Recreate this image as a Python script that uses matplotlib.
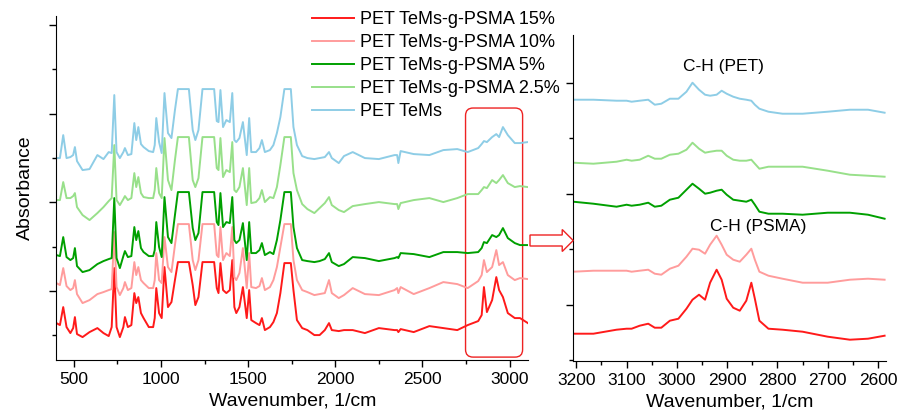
import matplotlib
matplotlib.use('Agg')
import matplotlib.pyplot as plt
import numpy as np
from matplotlib.patches import FancyBboxPatch, FancyArrow

plt.rcParams['font.family'] = ['Liberation Sans', 'DejaVu Sans']

# full FTIR spectra (left panel), stacked, arbitrary absorbance units
wavenumber = [400, 420, 439, 458, 480, 496, 506, 518, 550, 590,
              635, 670, 700, 717, 732, 745, 764, 784, 793, 810,
              830, 847, 858, 870, 885, 900, 930, 955, 964, 973,
              989, 1004, 1020, 1040, 1060, 1080, 1097, 1160, 1182, 1197,
              1215, 1238, 1305, 1320, 1330, 1341, 1356, 1375, 1395, 1409,
              1421, 1432, 1450, 1470, 1492, 1506, 1518, 1545, 1565, 1579,
              1596, 1625, 1645, 1665, 1685, 1708, 1745, 1760, 1780, 1810,
              1840, 1880, 1910, 1940, 1964, 1980, 2020, 2050, 2100, 2170,
              2250, 2340, 2355, 2362, 2375, 2450, 2540, 2620, 2700, 2760,
              2820, 2840, 2853, 2870, 2900, 2924, 2940, 2962, 2990, 3030,
              3060, 3105]

psma_15 = [0.37, 0.35, 0.53, 0.33, 0.27, 0.32, 0.43, 0.26, 0.23, 0.28,
           0.32, 0.27, 0.24, 0.33, 0.92, 0.33, 0.23, 0.33, 0.43, 0.33,
           0.35, 0.67, 0.57, 0.63, 0.47, 0.42, 0.33, 0.33, 0.42, 0.72,
           0.47, 0.42, 0.93, 0.53, 0.58, 0.80, 0.98, 0.98, 0.75, 0.55,
           0.63, 0.98, 0.98, 0.72, 0.67, 0.97, 0.70, 0.67, 0.70, 1.00,
           0.53, 0.47, 0.53, 0.73, 0.42, 0.70, 0.40, 0.37, 0.35, 0.42,
           0.30, 0.33, 0.38, 0.47, 0.67, 0.97, 0.97, 0.70, 0.40, 0.32,
           0.30, 0.25, 0.25, 0.30, 0.37, 0.30, 0.29, 0.30, 0.30, 0.27,
           0.32, 0.30, 0.30, 0.28, 0.31, 0.28, 0.34, 0.32, 0.30, 0.35,
           0.39, 0.45, 0.73, 0.48, 0.60, 0.83, 0.70, 0.63, 0.47, 0.42,
           0.42, 0.37]

psma_10 = [0.77, 0.75, 0.92, 0.74, 0.70, 0.72, 0.80, 0.66, 0.57, 0.60,
           0.66, 0.68, 0.70, 0.71, 1.28, 0.73, 0.65, 0.72, 0.78, 0.70,
           0.72, 0.98, 0.85, 0.93, 0.80, 0.77, 0.72, 0.72, 0.80, 1.07,
           0.80, 0.77, 1.23, 0.93, 0.88, 1.15, 1.36, 1.36, 1.00, 0.90,
           1.00, 1.36, 1.36, 1.05, 1.03, 1.33, 1.00, 1.07, 1.04, 1.33,
           0.83, 0.80, 0.87, 1.12, 0.72, 1.07, 0.73, 0.72, 0.74, 0.82,
           0.70, 0.73, 0.80, 0.93, 1.13, 1.36, 1.36, 1.00, 0.80, 0.70,
           0.68, 0.65, 0.66, 0.67, 0.80, 0.67, 0.62, 0.65, 0.72, 0.66,
           0.65, 0.70, 0.72, 0.67, 0.73, 0.66, 0.72, 0.78, 0.76, 0.72,
           0.79, 0.85, 1.00, 0.88, 0.93, 1.10, 0.95, 0.98, 0.85, 0.80,
           0.82, 0.81]

psma_5 = [1.05, 1.04, 1.23, 1.03, 1.00, 1.02, 1.12, 0.94, 0.88, 0.90,
          0.96, 0.99, 1.01, 1.02, 1.62, 1.02, 0.92, 1.04, 1.09, 1.03,
          1.04, 1.33, 1.20, 1.29, 1.12, 1.08, 1.04, 1.04, 1.10, 1.38,
          1.13, 1.03, 1.63, 1.23, 1.17, 1.45, 1.68, 1.68, 1.32, 1.20,
          1.27, 1.68, 1.68, 1.38, 1.35, 1.67, 1.33, 1.38, 1.37, 1.63,
          1.20, 1.17, 1.20, 1.37, 1.00, 1.38, 1.07, 1.07, 1.10, 1.17,
          1.05, 1.08, 1.06, 1.20, 1.40, 1.68, 1.68, 1.33, 1.12, 1.00,
          0.99, 0.98, 0.99, 1.01, 1.07, 0.98, 0.94, 0.96, 1.03, 1.02,
          0.99, 1.02, 1.03, 1.02, 1.07, 1.06, 1.03, 1.08, 1.08, 1.07,
          1.08, 1.12, 1.18, 1.17, 1.25, 1.23, 1.25, 1.32, 1.22, 1.17,
          1.15, 1.15]

psma_2_5 = [1.60, 1.60, 1.78, 1.62, 1.62, 1.64, 1.67, 1.53, 1.45, 1.40,
            1.47, 1.53, 1.59, 1.62, 2.15, 1.60, 1.55, 1.61, 1.64, 1.60,
            1.62, 1.87, 1.73, 1.83, 1.67, 1.63, 1.62, 1.62, 1.70, 1.92,
            1.67, 1.62, 2.22, 1.80, 1.70, 2.00, 2.23, 2.23, 1.80, 1.73,
            1.82, 2.23, 2.23, 1.92, 1.90, 2.22, 1.83, 1.90, 1.88, 2.18,
            1.70, 1.68, 1.73, 1.92, 1.55, 1.92, 1.57, 1.58, 1.62, 1.70,
            1.58, 1.63, 1.62, 1.73, 1.95, 2.23, 2.23, 1.87, 1.70, 1.56,
            1.51, 1.47, 1.52, 1.57, 1.63, 1.55, 1.50, 1.48, 1.54, 1.56,
            1.58, 1.56, 1.56, 1.51, 1.57, 1.60, 1.62, 1.58, 1.62, 1.66,
            1.66, 1.70, 1.73, 1.72, 1.80, 1.77, 1.80, 1.85, 1.77, 1.73,
            1.74, 1.73]

pet_tems = [2.02, 2.02, 2.25, 2.02, 2.03, 2.05, 2.13, 1.99, 1.90, 1.91,
            2.05, 2.01, 2.08, 2.07, 2.65, 2.08, 2.02, 2.08, 2.12, 2.05,
            2.06, 2.37, 2.20, 2.33, 2.16, 2.13, 2.09, 2.08, 2.15, 2.42,
            2.18, 2.07, 2.67, 2.27, 2.22, 2.50, 2.71, 2.71, 2.30, 2.20,
            2.30, 2.71, 2.71, 2.39, 2.38, 2.70, 2.33, 2.40, 2.38, 2.67,
            2.20, 2.18, 2.22, 2.38, 2.05, 2.42, 2.08, 2.08, 2.12, 2.20,
            2.08, 2.10, 2.15, 2.27, 2.43, 2.71, 2.71, 2.33, 2.15, 2.04,
            2.02, 2.01, 2.02, 2.03, 2.08, 2.02, 1.97, 2.04, 2.08, 2.02,
            2.01, 2.05, 2.05, 1.97, 2.09, 2.06, 2.05, 2.10, 2.11, 2.08,
            2.12, 2.16, 2.19, 2.18, 2.23, 2.26, 2.23, 2.33, 2.25, 2.17,
            2.17, 2.18]

# C-H stretching region (right panel)
wavenumber_ch = [3206, 3166, 3120, 3100, 3090, 3074, 3057, 3044, 3031, 3014,
                 2997, 2981, 2969, 2956, 2944, 2934, 2921, 2911, 2901, 2888,
                 2875, 2862, 2852, 2845, 2836, 2818, 2790, 2750, 2700, 2656,
                 2620, 2587]

ch_15 = [0.27, 0.27, 0.31, 0.32, 0.32, 0.35, 0.37, 0.33, 0.33, 0.40,
         0.42, 0.52, 0.61, 0.66, 0.61, 0.78, 0.91, 0.81, 0.62, 0.53,
         0.50, 0.60, 0.78, 0.62, 0.40, 0.32, 0.31, 0.29, 0.24, 0.21,
         0.22, 0.25]
ch_10 = [0.89, 0.90, 0.90, 0.90, 0.89, 0.90, 0.91, 0.87, 0.86, 0.92,
         0.95, 1.04, 1.12, 1.11, 1.07, 1.16, 1.25, 1.16, 1.06, 1.01,
         0.99, 1.06, 1.12, 1.01, 0.89, 0.85, 0.82, 0.78, 0.78, 0.81,
         0.82, 0.81]
ch_5 = [1.59, 1.57, 1.54, 1.56, 1.55, 1.56, 1.58, 1.54, 1.55, 1.61,
        1.63, 1.71, 1.77, 1.72, 1.67, 1.68, 1.70, 1.71, 1.66, 1.61,
        1.60, 1.59, 1.61, 1.56, 1.49, 1.47, 1.47, 1.46, 1.48, 1.48,
        1.46, 1.42]
ch_2_5 = [1.98, 1.97, 1.99, 2.01, 2.00, 2.01, 2.05, 2.02, 2.02, 2.06,
          2.07, 2.11, 2.18, 2.12, 2.08, 2.09, 2.10, 2.10, 2.05, 2.01,
          2.00, 2.00, 2.01, 1.97, 1.92, 1.94, 1.94, 1.94, 1.90, 1.86,
          1.85, 1.84]
ch_tems = [2.61, 2.61, 2.60, 2.60, 2.59, 2.60, 2.61, 2.56, 2.57, 2.62,
           2.62, 2.69, 2.78, 2.71, 2.66, 2.65, 2.66, 2.70, 2.67, 2.64,
           2.62, 2.61, 2.60, 2.56, 2.52, 2.49, 2.47, 2.47, 2.49, 2.51,
           2.51, 2.48]

labels = ['PET TeMs-g-PSMA 15%', 'PET TeMs-g-PSMA 10%', 'PET TeMs-g-PSMA 5%',
          'PET TeMs-g-PSMA 2.5%', 'PET TeMs']
colors = ['#ff1a1a', '#ff9c9c', '#00a000', '#98e08a', '#8ecde6']

full_series = [psma_15, psma_10, psma_5, psma_2_5, pet_tems]
ch_series = [ch_15, ch_10, ch_5, ch_2_5, ch_tems]

fig = plt.figure(figsize=(9, 4.12), dpi=100)
ax1 = fig.add_axes([0.0627, 0.126, 0.524, 0.835])
ax2 = fig.add_axes([0.637, 0.1245, 0.347, 0.7905])

lines = []
for y, c, lab in zip(full_series, colors, labels):
    ln, = ax1.plot(wavenumber, y, color=c, lw=1.4, label=lab)
    lines.append(ln)
for y, c in zip(ch_series, colors):
    ax2.plot(wavenumber_ch, y, color=c, lw=1.4)

for ax in (ax1, ax2):
    for s in ('top', 'right'):
        ax.spines[s].set_visible(False)
    ax.tick_params(which='major', direction='out', length=5, width=1, labelsize=12.5, pad=3.5)
    ax.tick_params(which='minor', direction='out', length=3, width=1)
    ax.tick_params(axis='y', labelleft=False)
    ax.set_xlabel('Wavenumber, 1/cm', fontsize=14, labelpad=4)

ax1.set_xlim(400, 3106)
ax1.set_ylim(0, 3.44)
ax1.set_xticks([500, 1000, 1500, 2000, 2500, 3000])
ax1.set_xticks([750, 1250, 1750, 2250, 2750], minor=True)
ax1.set_yticks([0.69, 1.58, 2.46, 3.35])
ax1.set_yticks([0.25, 1.13, 2.02, 2.91], minor=True)
ax1.set_ylabel('Absorbance', fontsize=14, labelpad=10)

ax2.set_xlim(3206, 2585)
ax2.set_ylim(0, 3.257)
ax2.set_xticks([3200, 3100, 3000, 2900, 2800, 2700, 2600])
ax2.set_xticks([3150, 3050, 2950, 2850, 2750, 2650], minor=True)
ax2.set_yticks([0.557, 1.667, 2.774])
ax2.set_yticks([0.007, 1.117, 2.227], minor=True)

ax2.text(2907, 2.94, 'C-H (PET)', fontsize=12.5, ha='center', va='center')
ax2.text(2838, 1.34, 'C-H (PSMA)', fontsize=12.5, ha='center', va='center')

# red rounded box marking the zoomed region
box = FancyBboxPatch((0.8675, 0.0087), 0.121, 0.724,
                     boxstyle='round,pad=0,rounding_size=0.016',
                     mutation_aspect=1.37, transform=ax1.transAxes,
                     fill=False, edgecolor='#ee2222', lw=1.0, clip_on=False)
ax1.add_patch(box)

# hollow arrow between the panels
arrow = FancyArrow(0.5889, 1 - 240.5 / 412, 0.048, 0, width=11 / 412,
                   head_width=22 / 412, head_length=11 / 900,
                   length_includes_head=True, transform=fig.transFigure,
                   facecolor='white', edgecolor='#ee2222', lw=1.0)
fig.add_artist(arrow)

ax1.legend(handles=lines, loc='upper left', bbox_to_anchor=(312 / 900, 1 - 11 / 412),
           bbox_transform=fig.transFigure, frameon=False, fontsize=13.0,
           handlelength=2.35, handletextpad=0.3, labelspacing=0.33,
           borderpad=0, borderaxespad=0)

fig.savefig('out.png', dpi=100)
